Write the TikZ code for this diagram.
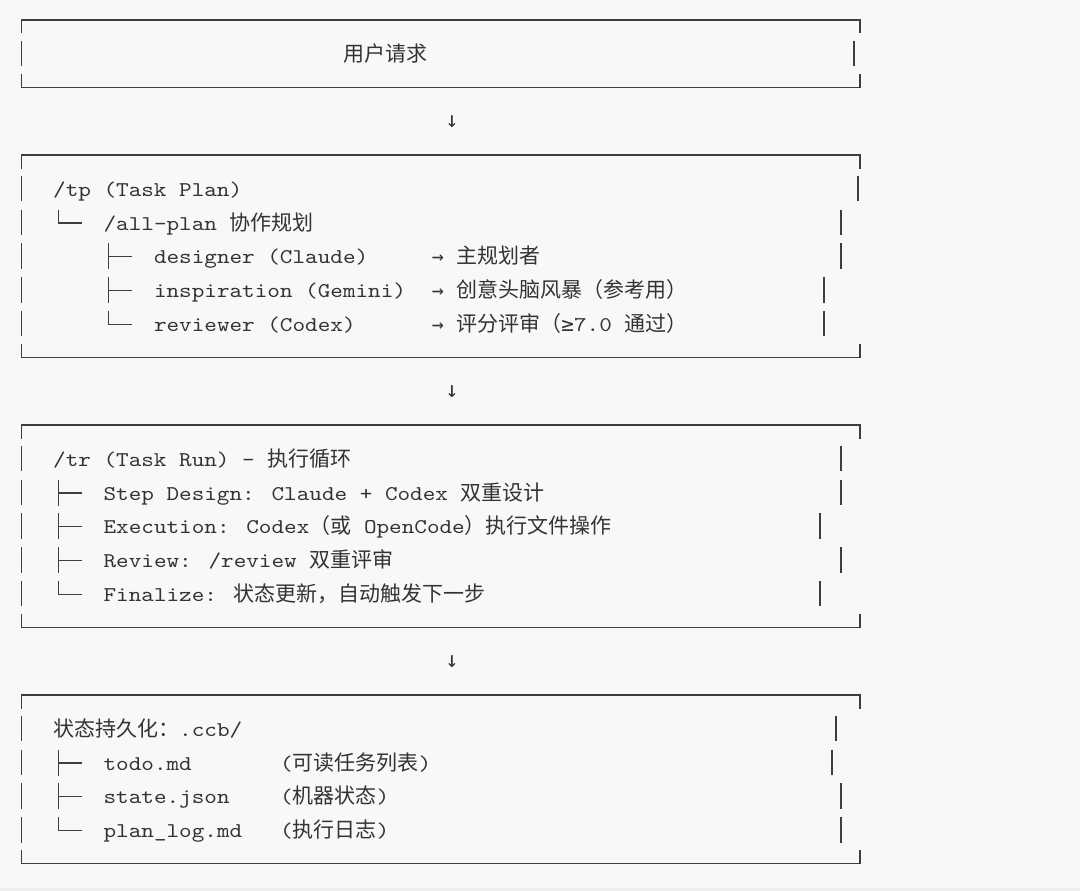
\documentclass[tikz,border=0pt]{standalone}
\usepackage{fontspec}
\newfontfamily\cjk{Noto Sans CJK SC}
\newfontfamily\sym{DejaVu Sans Mono}
\newfontfamily\monof{lmmono10-regular.otf}[FakeStretch=1.143]
\definecolor{bg}{HTML}{F8F8F8}
\definecolor{band}{HTML}{EEEEF0}
\definecolor{ln}{HTML}{3E3E3E}
\definecolor{tx}{HTML}{333333}
\newcommand\mkframe[2]{%
  \draw[frm] (21.5,#1+13.5) -- (21.5,#1) -- (860,#1) -- (860,#1+13.5);
  \draw[frm] (21.5,#2-13.5) -- (21.5,#2) -- (860,#2) -- (860,#2-13.5);}
\newcommand\mkbars[2]{%
  \draw[frm] (21.5,#1-13) -- (21.5,#1+12.5);
  \draw[frm] (#2,#1-13) -- (#2,#1+12.5);}
\newcommand\mkTee[2]{\draw[tree] (#1,#2-13) -- (#1,#2+13) (#1,#2+0.5) -- (#1+23.4,#2+0.5);}
\newcommand\mkEll[2]{\draw[tree] (#1,#2-13) -- (#1,#2+0.5) -- (#1+23.4,#2+0.5);}
\begin{document}
\begin{tikzpicture}[x=1pt,y=-1pt,
  frm/.style={draw=ln,line width=1.4pt},
  tree/.style={draw=ln,line width=1.25pt},
  txt/.style={anchor=base west,inner sep=0pt,text=tx,font=\monof\fontsize{21}{21}\selectfont},
  arr/.style={anchor=base,inner sep=0pt,text=tx,font=\sym\fontsize{22}{22}\selectfont},
  rarr/.style={anchor=base,inner sep=0pt,text=tx,font=\sym\fontsize{20}{20}\selectfont}]
\fill[bg] (0,0) rectangle (1080,891);
\fill[band] (0,887.5) rectangle (1080,891);
\useasboundingbox (0,0) rectangle (1080,891);

% ---------- box 1
\mkframe{20}{87.5}
\mkbars{53.75}{854}
\node[txt] (req) at (343,61.25) {\cjk 用户请求};
\node[arr] (a1) at (452,127.5) {↓};

% ---------- box 2
\mkframe{155}{357.5}
\mkbars{188.75}{858}
\mkbars{222.5}{841}
\mkbars{256.25}{841}
\mkbars{290}{824}
\mkbars{323.75}{824}
\node[txt] (tp) at (53,196.25) {/tp (Task Plan)};
\mkEll{58.3}{222.5}
\node[txt] (allplan) at (103.4,230) {/all-plan {\cjk 协作规划}};
\mkTee{108.7}{256.25}
\node[txt] (des) at (153.8,263.75) {designer (Claude)};
\node[rarr] (desa) at (438,263.75) {→};
\node[txt] (desr) at (456.2,263.75) {\cjk 主规划者};
\mkTee{108.7}{290}
\node[txt] (ins) at (153.8,297.5) {inspiration (Gemini)};
\node[rarr] (insa) at (438,297.5) {→};
\node[txt] (insr) at (456.2,297.5) {\cjk 创意头脑风暴（参考用）};
\mkEll{108.7}{323.75}
\node[txt] (rev) at (153.8,331.25) {reviewer (Codex)};
\node[rarr] (reva) at (438,331.25) {→};
\node[txt] (revr) at (456.2,331.25) {{\cjk 评分评审（}{\sym ≥}7.0 {\cjk 通过）}};
\node[arr] (a2) at (452,397.5) {↓};

% ---------- box 3
\mkframe{425}{627.5}
\mkbars{458.75}{841}
\mkbars{492.5}{841}
\mkbars{526.25}{820}
\mkbars{560}{841}
\mkbars{593.75}{820}
\node[txt] (tr) at (53,466.25) {/tr (Task Run) - {\cjk 执行循环}};
\mkTee{58.3}{492.5}
\node[txt] (sd) at (103.4,500) {Step Design: Claude + Codex {\cjk 双重设计}};
\mkTee{58.3}{526.25}
\node[txt] (ex) at (103.4,533.75) {Execution: Codex{\cjk （或} OpenCode{\cjk ）执行文件操作}};
\mkTee{58.3}{560}
\node[txt] (rv) at (103.4,567.5) {Review: /review {\cjk 双重评审}};
\mkEll{58.3}{593.75}
\node[txt] (fz) at (103.4,601.25) {Finalize: {\cjk 状态更新，自动触发下一步}};
\node[arr] (a3) at (452,667.5) {↓};

% ---------- box 4
\mkframe{695}{863.75}
\mkbars{728.75}{836}
\mkbars{762.5}{832}
\mkbars{796.25}{841}
\mkbars{830}{841}
\node[txt] (st) at (53,736.25) {{\cjk 状态持久化：}.ccb/};
\mkTee{58.3}{762.5}
\node[txt] (todo) at (103.4,770) {todo.md};
\node[txt] (todod) at (279.8,770) {({\cjk 可读任务列表})};
\mkTee{58.3}{796.25}
\node[txt] (sj) at (103.4,803.75) {state.json};
\node[txt] (sjd) at (279.8,803.75) {({\cjk 机器状态})};
\mkEll{58.3}{830}
\node[txt] (pl) at (103.4,837.5) {plan\_log.md};
\node[txt] (pld) at (279.8,837.5) {({\cjk 执行日志})};
\end{tikzpicture}
\end{document}
